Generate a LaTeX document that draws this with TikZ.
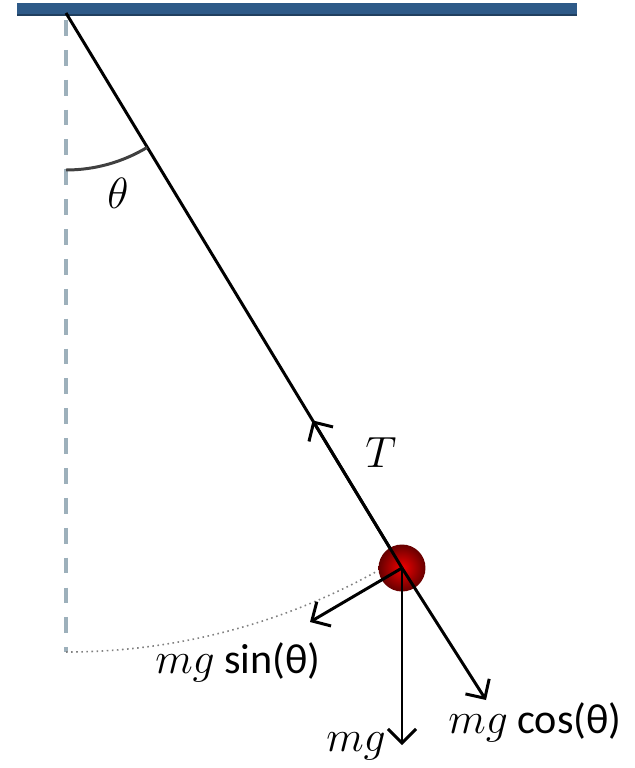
\documentclass[tikz,border=0pt]{standalone}
\usepackage{fontspec}
\setmainfont{Carlito}
\usepackage{xcolor}
\usetikzlibrary{calc, arrows.meta}
\definecolor{barblue}{HTML}{2E5A88}
\definecolor{dashgray}{HTML}{9DB0BB}

\begin{document}
\begin{tikzpicture}[x=0.02cm, y=-0.02cm,
    rope/.style={line width=1.7pt, black},
    force/.style={line width=1.7pt, -{Straight Barb[length=8pt, width=16pt]}},
    lbl/.style={font=\fontsize{24}{28}\selectfont, inner sep=0pt},
    bob/.style={circle, minimum size=0.94cm, inner sep=0pt, shade,
                inner color=red!95!black, outer color=red!40!black}
  ]
    \useasboundingbox (0,0) rectangle (635,768);

    \fill[barblue] (17,3) rectangle (577,15);
    \draw[barblue!70!black, line width=1pt] (17,15) -- (577,15);
    \coordinate (pivot) at (66,13);
    \coordinate (bobc) at (402,568);

    \draw[dashgray, line width=1.8pt, dash pattern=on 9pt off 8pt] (66,20) -- (66,652);
    \draw[gray, line width=0.9pt, dotted] (66,652) arc[start angle=90, end angle=61, radius=639];

    \draw[rope] (pivot) -- (bobc);
    \node[bob] (bob) at (bobc) {};

    \draw[black!75, line width=1.7pt] (66,170) arc[start angle=90, end angle=58.9, radius=157];
    \node[lbl, font=\fontsize{27}{30}\selectfont] (theta) at (118,193) {$\theta$};

    \coordinate (ttip) at ($(bob.center)!0.266!(pivot)$);
    \coordinate (wtip) at (402,745);
    \coordinate (ctip) at (486,700);
    \coordinate (stip) at (310,622);

    \draw[force] (bob.center) -- (ttip);
    \draw[force] (bob.center) -- (wtip);
    \draw[force] (bob.center) -- (ctip);
    \draw[force] (bob.center) -- (stip);

    \node[lbl] (tlbl) at (381,453) {$T$};
    \node[lbl] (wlbl) at (356,746) {$mg$};
    \node[lbl] (clbl) at (535,722) {$mg$ cos(θ)};
    \node[lbl] (slbl) at (238,662) {$mg$ sin(θ)};
  \end{tikzpicture}
\end{document}
